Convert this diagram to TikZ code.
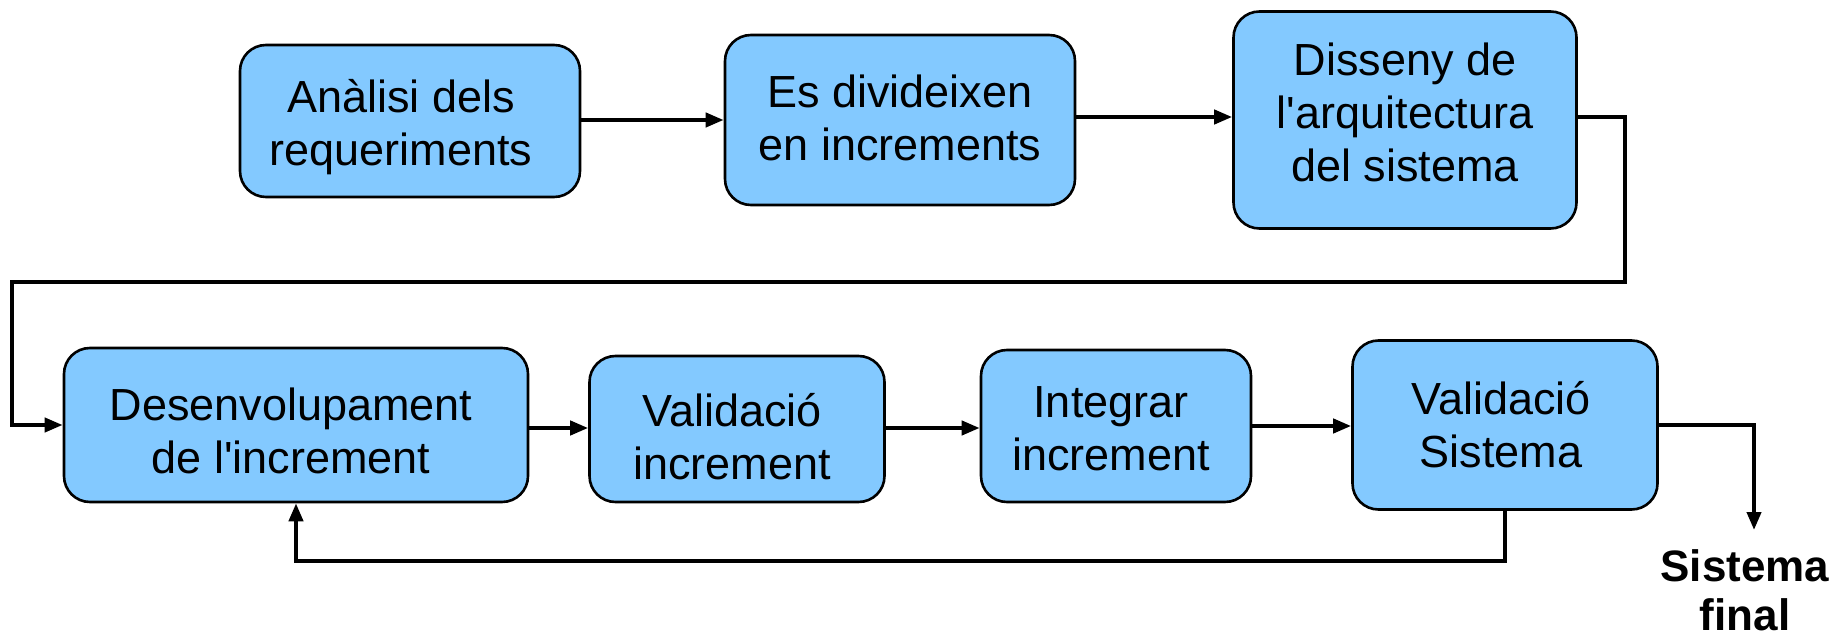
\documentclass[tikz,border=0pt]{standalone}
\usepackage{fontspec}
\setmainfont{Liberation Sans}
\usetikzlibrary{arrows.meta}
\definecolor{boxfill}{RGB}{131,201,255}
\tikzset{
  procbox/.style={draw=black, line width=1.3pt, fill=boxfill, rounded corners=13pt, inner sep=0pt},
  boxtext/.style={align=center, inner sep=0pt, font=\fontsize{22.5pt}{26.5pt}\selectfont},
  flow/.style={line width=2pt, -{Triangle[length=9pt,width=7pt]}},
}
\newcommand{\apos}{\textquotesingle}
\begin{document}
\begin{tikzpicture}[x=0.5pt,y=-0.5pt]
\useasboundingbox (0,0) rectangle (1840,641);
\node[procbox, minimum width=170pt, minimum height=76pt] (b1) at (410,121) {};
\node[procbox, minimum width=175pt, minimum height=85pt] (b2) at (900,120) {};
\node[procbox, minimum width=171.5pt, minimum height=108.5pt] (b3) at (1405,120) {};
\node[procbox, minimum width=232pt, minimum height=77pt] (b4) at (296,425) {};
\node[procbox, minimum width=147.5pt, minimum height=73pt] (b5) at (737,429) {};
\node[procbox, minimum width=135pt, minimum height=76pt] (b6) at (1116,426) {};
\node[procbox, minimum width=152.5pt, minimum height=84.5pt] (b7) at (1505,425) {};
\node[boxtext] (t1) at ([shift={(-9,6)}]b1.center) {Anàlisi dels\\requeriments};
\node[boxtext] (t2) at ([shift={(0,-2)}]b2.center) {Es divideixen\\en increments};
\node[boxtext] (t3) at ([shift={(0,-8)}]b3.center) {Disseny de\\l\apos arquitectura\\del sistema};
\node[boxtext] (t4) at ([shift={(-5,6)}]b4.center) {Desenvolupament\\de l\apos increment};
\node[boxtext] (t5) at ([shift={(-5,8)}]b5.center) {Validació\\increment};
\node[boxtext] (t6) at ([shift={(-5,3)}]b6.center) {Integrar\\increment};
\node[boxtext] (t7) at ([shift={(-4,0)}]b7.center) {Validació\\Sistema};
\node[align=center, inner sep=0pt, font=\fontsize{22pt}{24.5pt}\selectfont\bfseries] (fin) at (1745,590) {Sistema\\final};
\coordinate (c1) at (1625,117);
\coordinate (c2) at (1625,282);
\coordinate (c3) at (12,282);
\coordinate (c4) at (12,425);
\coordinate (c5) at (1754,425);
\coordinate (c6) at (1754,530);
\coordinate (c7) at (1505,561);
\coordinate (c8) at (296,561);
\draw[flow] (b1.east |- 0,120) -- (b2.west |- 0,120);
\draw[flow] (b2.east |- 0,117) -- (b3.west |- 0,117);
\draw[flow] (b3.east |- c1) -- (c1) -- (c2) -- (c3) -- (c4) -- (b4.west |- c4);
\draw[flow] (b4.east |- 0,428) -- (b5.west |- 0,428);
\draw[flow] (b5.east |- 0,428) -- (b6.west |- 0,428);
\draw[flow] (b6.east |- 0,426) -- (b7.west |- 0,426);
\draw[flow] (b7.east |- c5) -- (c5) -- (c6);
\draw[flow] (b7.south) -- (c7) -- (c8) -- (b4.south);
\end{tikzpicture}
\end{document}
